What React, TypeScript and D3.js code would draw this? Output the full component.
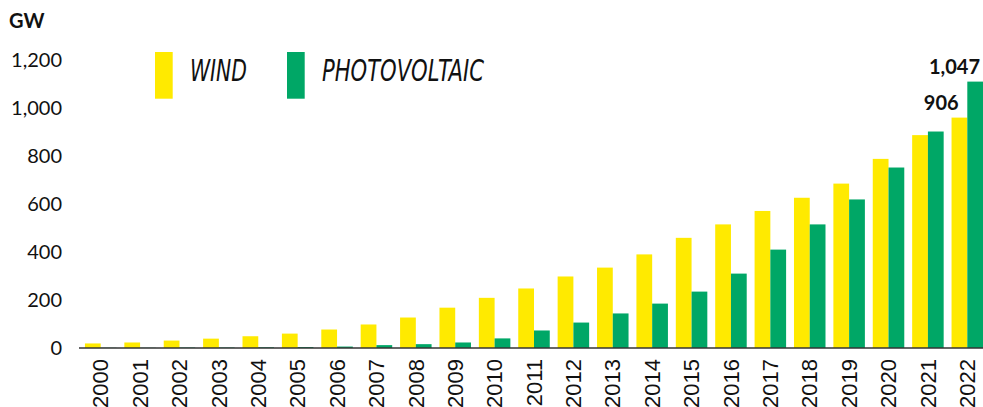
import React from "react";
import * as d3 from "d3";

const years = ["2000","2001","2002","2003","2004","2005","2006","2007","2008","2009","2010","2011","2012","2013","2014","2015","2016","2017","2018","2019","2020","2021","2022"];
const windValues = [19,23,31,39,49,60,77,98,127,168,209,248,298,335,390,459,515,571,626,685,788,887,960];
const pvValues = [1,1,2,2,3,4,6,12,16,23,40,73,106,144,185,235,310,410,515,619,752,902,1110];
const yTicks = [0,200,400,600,800,1000,1200];
const seriesNames = ["WIND","PHOTOVOLTAIC"];
const callouts = [{ year: "2021", text: "906" }, { year: "2022", text: "1,047" }];

const W = 983, H = 407;
const YELLOW = "#FFEA00";
const GREEN = "#00A766";

export default function App() {
  const x = d3.scaleBand<string>().domain(years).range([81, 987]).paddingInner(0.2).paddingOuter(0.1);
  const sub = d3.scaleBand<string>().domain(["w","p"]).range([0, x.bandwidth()]);
  const y = d3.scaleLinear().domain([0, 1200]).range([348, 60]);
  const fmt = d3.format(",");
  const legendX = [155, 287];
  const legendTextW = [57, 162];
  const colors = [YELLOW, GREEN];

  return (
    <svg width={W} height={H} style={{ position: "absolute", left: 0, top: 0, background: "#fff" }}>
      <text x={9} y={28} fontFamily="Lato" fontWeight="bold" fontSize={20} fill="#111">GW</text>
      {yTicks.map(t => (
        <text key={t} x={62} y={y(t)} dy="0.36em" textAnchor="end" fontFamily="Lato" fontSize={20} fill="#111">{fmt(t)}</text>
      ))}
      {years.map((yr, i) => (
        <g key={yr}>
          <rect x={(x(yr) as number) + (sub("w") as number)} y={y(windValues[i])} width={sub.bandwidth()} height={y(0) - y(windValues[i])} fill={YELLOW} />
          <rect x={(x(yr) as number) + (sub("p") as number)} y={y(pvValues[i])} width={sub.bandwidth()} height={y(0) - y(pvValues[i])} fill={GREEN} />
          <text transform={`translate(${(x(yr) as number) + x.bandwidth() / 2},359) rotate(-90)`} dy="0.35em" textAnchor="end" fontFamily="Liberation Sans, Arial" fontSize={22} fill="#111">{yr}</text>
        </g>
      ))}
      <line x1={79} x2={983} y1={y(0)} y2={y(0)} stroke="#333" strokeWidth={1.3} />
      {seriesNames.map((s, i) => (
        <g key={s}>
          <rect x={legendX[i]} y={52} width={17.7} height={46.7} fill={colors[i]} />
          <text x={legendX[i] + 35} y={80.7} fontFamily="Liberation Sans Narrow, DejaVu Sans Condensed" fontStyle="italic" fontSize={30} fill="#111" textLength={legendTextW[i]} lengthAdjust="spacingAndGlyphs">{s}</text>
        </g>
      ))}
      {callouts.map((c, i) => (
        <text key={c.year} x={i === 0 ? (x(c.year) as number) + x.bandwidth() + 15 : (x(c.year) as number) + x.bandwidth() - 3} y={i === 0 ? 110 : 74} textAnchor="end" fontFamily="Lato" fontWeight="bold" fontSize={20} fill="#111">{c.text}</text>
      ))}
    </svg>
  );
}
